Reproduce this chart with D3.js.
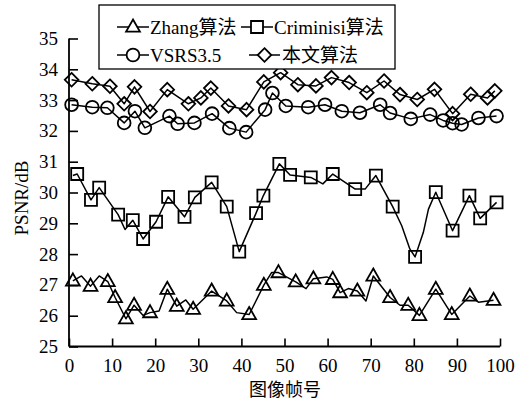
<!DOCTYPE html>
<html>
<head>
<meta charset="utf-8">
<script src="https://cdn.jsdelivr.net/npm/d3@7/dist/d3.min.js"></script>
<style>
  html, body { margin: 0; padding: 0; background: #fff; }
  svg { display: block; }
</style>
</head>
<body>
<svg id="chart" width="521" height="402"></svg>
<script>
// PSNR per frame for the four inpainting methods.
// Each series: frame numbers, PSNR values, and a 1/0 flag telling whether a marker is drawn there.
const zhangFrames = [0.9, 2.9, 5.0, 7.0, 9.0, 10.7, 13.2, 15.1, 17.2, 18.8, 20.9, 22.8, 25.0, 27.1, 28.8, 33.1, 36.6, 38.9, 41.8, 45.2, 47.0, 48.6, 52.6, 55.0, 56.7, 59.8, 61.2, 62.9, 64.8, 66.9, 68.9, 70.6, 74.5, 76.8, 78.7, 81.3, 85.1, 88.8, 93.0, 95.0, 98.5];
const zhangPSNR   = [27.13, 27.29, 26.96, 27.29, 27.11, 26.59, 25.90, 26.34, 26.01, 26.10, 26.15, 26.86, 26.31, 26.51, 26.21, 26.80, 26.48, 26.10, 26.04, 26.99, 27.40, 27.40, 27.10, 26.88, 27.20, 27.26, 27.18, 26.75, 26.88, 26.80, 26.48, 27.29, 26.59, 26.34, 26.34, 26.01, 26.86, 26.04, 26.64, 26.44, 26.50];
const zhangMarked = [1, 0, 1, 0, 1, 1, 1, 1, 0, 1, 0, 1, 1, 0, 1, 1, 1, 0, 1, 1, 0, 1, 1, 0, 1, 0, 1, 1, 0, 1, 0, 1, 1, 0, 1, 1, 1, 1, 1, 0, 1];

const crimFrames = [0.9, 1.9, 5.1, 7.0, 11.4, 13.0, 14.8, 17.2, 20.2, 23.0, 26.8, 29.2, 33.1, 36.6, 39.5, 43.4, 45.1, 48.8, 51.3, 56.1, 58.9, 61.2, 66.4, 68.7, 71.2, 75.1, 77.2, 79.1, 80.3, 82.2, 83.4, 85.1, 89.0, 92.9, 95.4, 99.2];
const crimPSNR   = [30.55, 30.60, 29.76, 30.16, 29.28, 28.80, 29.10, 28.49, 29.05, 29.86, 29.21, 29.84, 30.33, 29.54, 28.08, 29.33, 29.90, 30.93, 30.57, 30.49, 30.28, 30.60, 30.11, 30.11, 30.55, 29.54, 28.92, 28.16, 27.91, 28.70, 29.46, 30.01, 28.76, 29.90, 29.16, 29.68];
const crimMarked = [0, 1, 1, 1, 1, 0, 1, 1, 1, 1, 1, 1, 1, 1, 1, 1, 1, 1, 1, 1, 0, 1, 1, 0, 1, 1, 0, 0, 1, 0, 0, 1, 1, 1, 1, 1];

const vsrsFrames = [0.6, 5.4, 8.9, 12.8, 15.3, 17.6, 23.3, 25.2, 29.1, 33.2, 37.2, 41.1, 45.5, 47.2, 50.3, 55.5, 59.4, 63.3, 67.5, 72.2, 74.5, 79.3, 83.8, 86.8, 89.0, 91.1, 95.0, 99.2];
const vsrsPSNR   = [32.85, 32.77, 32.75, 32.26, 32.64, 32.10, 32.48, 32.23, 32.26, 32.56, 32.09, 31.96, 32.69, 33.23, 32.81, 32.77, 32.85, 32.64, 32.59, 32.85, 32.58, 32.39, 32.53, 32.34, 32.25, 32.21, 32.42, 32.48];
const vsrsMarked = vsrsFrames.map(() => 1);

const oursFrames = [0.6, 5.4, 9.5, 12.8, 15.2, 18.8, 22.8, 27.7, 30.6, 32.9, 37.0, 41.2, 45.2, 49.1, 53.1, 57.3, 60.9, 65.0, 69.1, 73.1, 76.8, 80.8, 84.8, 89.0, 93.2, 97.1, 98.8];
const oursPSNR   = [33.66, 33.53, 33.45, 32.88, 33.43, 32.63, 33.34, 32.88, 33.07, 33.39, 32.81, 32.69, 33.59, 33.89, 33.50, 33.46, 33.73, 33.57, 33.24, 33.62, 33.18, 33.02, 33.35, 32.56, 33.19, 33.07, 33.30];
const oursMarked = oursFrames.map(() => 1);

const xTicks = [0, 10, 20, 30, 40, 50, 60, 70, 80, 90, 100];
const yTicks = [25, 26, 27, 28, 29, 30, 31, 32, 33, 34, 35];

const seriesNames = ["Zhang算法", "Criminisi算法", "VSRS3.5", "本文算法"];
const xTitle = "图像帧号";
const yTitle = "PSNR/dB";

const series = [
  { name: seriesNames[0], shape: "triangle", frames: zhangFrames, values: zhangPSNR, marked: zhangMarked },
  { name: seriesNames[1], shape: "square",   frames: crimFrames,  values: crimPSNR,  marked: crimMarked },
  { name: seriesNames[2], shape: "circle",   frames: vsrsFrames,  values: vsrsPSNR,  marked: vsrsMarked },
  { name: seriesNames[3], shape: "diamond",  frames: oursFrames,  values: oursPSNR,  marked: oursMarked }
];

const FONT = '"Liberation Serif", "Times New Roman", "Noto Sans CJK SC"';

const svg = d3.select("#chart");
const plot = { left: 69, right: 500, top: 38.5, bottom: 346.5 };

const x = d3.scaleLinear().domain([0, 100]).range([plot.left, plot.right]);
const y = d3.scaleLinear().domain([25, 35]).range([plot.bottom, plot.top]);

// Hollow marker shapes, centred on (0,0)
function markerPath(shape) {
  switch (shape) {
    case "triangle": { const s = 7.5; return `M0,${-s} L${s * 0.92},${s * 0.62} L${-s * 0.92},${s * 0.62} Z`; }
    case "square":   { const h = 6;   return `M${-h},${-h} H${h} V${h} H${-h} Z`; }
    case "diamond":  { const h = 6.8; return `M0,${-h} L${h},0 L0,${h} L${-h},0 Z`; }
    default:         { const r = 6.4; return `M${r},0 A${r},${r} 0 1,1 ${-r},0 A${r},${r} 0 1,1 ${r},0 Z`; }
  }
}

// Axes: ticks point inwards, only left and bottom spines
const xAxis = d3.axisBottom(x).tickValues(xTicks).tickSize(-8).tickPadding(12).tickFormat(d3.format("d"));
const yAxis = d3.axisLeft(y).tickValues(yTicks).tickSize(-9).tickPadding(11).tickFormat(d3.format("d"));

const gx = svg.append("g").attr("transform", `translate(0,${plot.bottom})`).call(xAxis);
const gy = svg.append("g").attr("transform", `translate(${plot.left},0)`).call(yAxis);
[gx, gy].forEach(g => {
  g.select(".domain").attr("stroke", "#000").attr("stroke-width", 1.8);
  g.selectAll(".tick line").attr("stroke", "#000").attr("stroke-width", 1.6);
  g.selectAll(".tick text")
    .style("font-family", FONT)
    .style("font-size", "19px")
    .attr("fill", "#000");
});
gx.select(".domain").attr("d", `M${plot.left},0H${plot.right}`);
gy.select(".domain").attr("d", `M0,${plot.top}V${plot.bottom}`);

// Axis titles
svg.append("text")
  .attr("x", 285).attr("y", 396)
  .attr("text-anchor", "middle")
  .style("font-family", FONT)
  .style("font-size", "18px")
  .text(xTitle);
svg.append("text")
  .attr("transform", `translate(21,198) rotate(-90)`)
  .attr("text-anchor", "middle")
  .attr("dominant-baseline", "central")
  .style("font-family", FONT)
  .style("font-size", "19px")
  .text(yTitle);

// Series lines and markers
const line = d3.line().x(d => x(d[0])).y(d => y(d[1])).curve(d3.curveLinear);

series.forEach(s => {
  const pts = s.frames.map((f, i) => [f, s.values[i], s.marked[i]]);
  svg.append("path")
    .datum(pts)
    .attr("d", line)
    .attr("fill", "none")
    .attr("stroke", "#000")
    .attr("stroke-width", 1.5)
    .attr("stroke-linejoin", "round");
  svg.append("g").selectAll("path")
    .data(pts.filter(p => p[2] === 1))
    .join("path")
    .attr("transform", d => `translate(${x(d[0])},${y(d[1])})`)
    .attr("d", markerPath(s.shape))
    .attr("fill", "none")
    .attr("stroke", "#000")
    .attr("stroke-width", 1.8);
});

// Legend box with two rows of two entries
const legend = svg.append("g");
legend.append("rect")
  .attr("x", 99).attr("y", 5).attr("width", 296).attr("height", 64)
  .attr("fill", "#fff").attr("stroke", "#000").attr("stroke-width", 1.3);

const legendPos = [
  { lx: 117, lw: 32, ly: 27, tx: 150 },
  { lx: 241, lw: 32, ly: 27, tx: 274 },
  { lx: 117, lw: 32, ly: 55, tx: 150 },
  { lx: 249, lw: 31, ly: 55, tx: 282 }
];
series.forEach((s, i) => {
  const p = legendPos[i];
  legend.append("line")
    .attr("x1", p.lx).attr("x2", p.lx + p.lw)
    .attr("y1", p.ly).attr("y2", p.ly)
    .attr("stroke", "#000").attr("stroke-width", 1.5);
  legend.append("path")
    .attr("transform", `translate(${p.lx + p.lw / 2},${p.ly})`)
    .attr("d", markerPath(s.shape))
    .attr("fill", "#fff").attr("stroke", "#000").attr("stroke-width", 1.8);
  legend.append("text")
    .attr("x", p.tx).attr("y", p.ly + 7)
    .style("font-family", FONT)
    .style("font-size", "19px")
    .text(s.name);
});
</script>
</body>
</html>
